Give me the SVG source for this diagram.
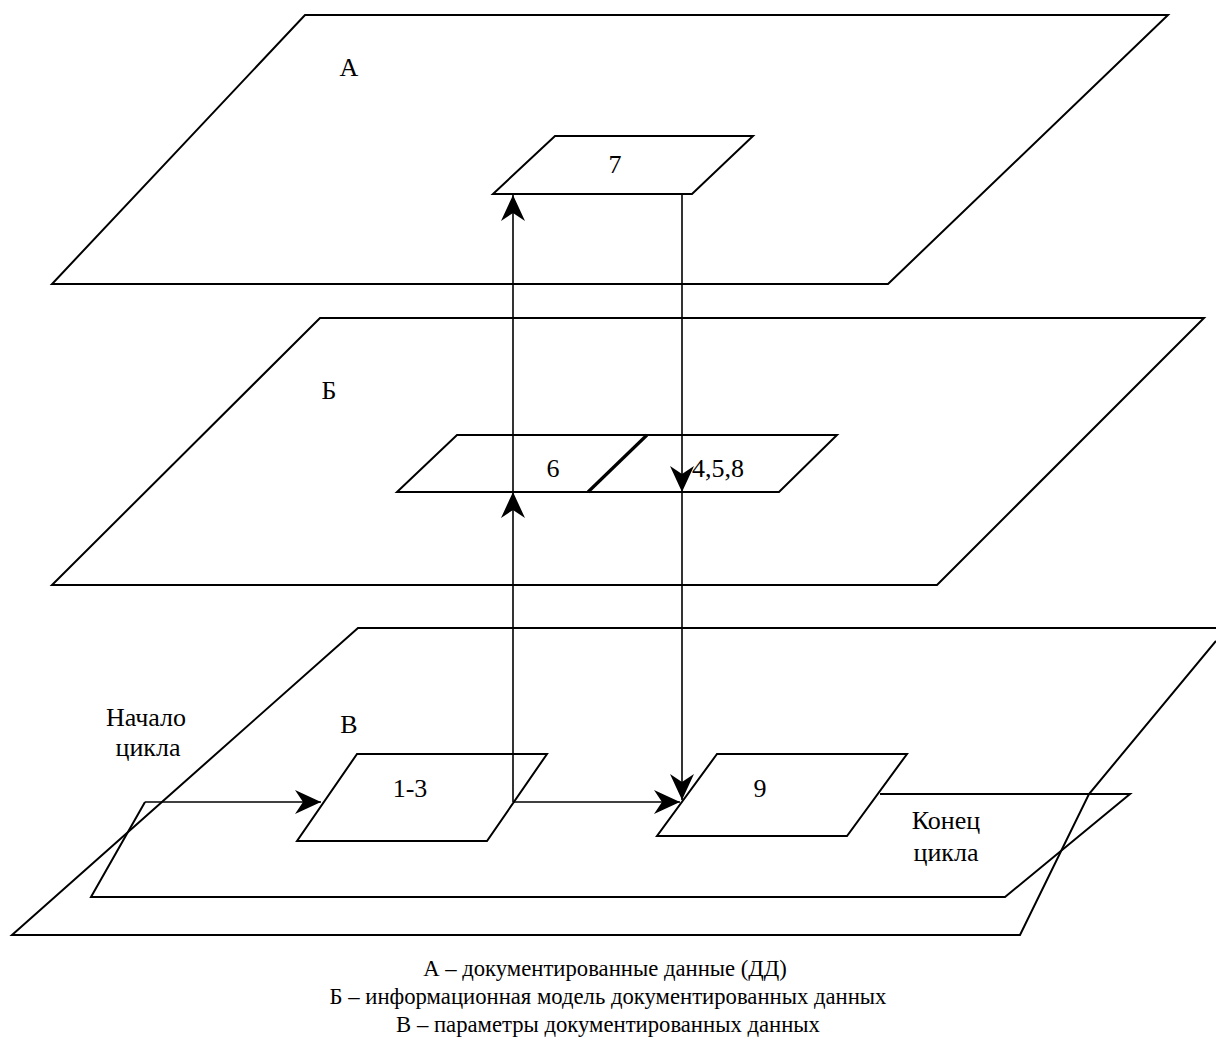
<svg xmlns="http://www.w3.org/2000/svg" width="1216" height="1041" viewBox="0 0 1216 1041">
<style>
.pl{fill:none;stroke:#000;stroke-width:2;stroke-linejoin:miter}
.nd{fill:#fff;stroke:#000;stroke-width:2}
.cn{fill:none;stroke:#000;stroke-width:1.6}
text{font-family:'Liberation Serif','Times New Roman',serif;font-size:26px;fill:#000}
.c{text-anchor:middle}
.lg{font-size:22.7px}
</style>
<defs>
<marker id="ar" markerUnits="userSpaceOnUse" markerWidth="30" markerHeight="30" viewBox="-28 -14 30 28" refX="0" refY="0" orient="auto">
<path d="M0,0 L-26,-12 L-18,0 L-26,12 Z" fill="#000"/>
</marker>
</defs>
<g id="plane-A">
<polygon class="pl" points="305,15 1168,15 888,284 52,284"/>
<text class="c" x="349" y="76">А</text>
</g>
<g id="plane-B">
<polygon class="pl" points="320,318 1204,318 937,585 52,585"/>
<text class="c" x="329" y="399">Б</text>
</g>
<g id="plane-V">
<path class="pl" d="M1216,628 L358,628 L12,935 L1020,935 L1089,794 L1216,641"/>
<text class="c" x="349" y="733">В</text>
</g>
<g id="cycle-loop">
<path class="pl" d="M880,794 L1130,794 L1005,897 L91,897 L145,802"/>
<text class="c" x="146" y="726">Начало</text>
<text class="c" x="148" y="756">цикла</text>
<text class="c" x="946" y="829">Конец</text>
<text class="c" x="946" y="861">цикла</text>
</g>
<g id="node-7">
<polygon class="nd" points="555,136 753,136 692,194 493,194"/>
<text class="c" x="615" y="173">7</text>
</g>
<g id="node-6-458">
<polygon class="nd" points="457,435 837,435 779,492 397,492"/>
<line x1="588" y1="492" x2="647" y2="435" stroke="#000" stroke-width="3.2"/>
<text class="c" x="553" y="477">6</text>
<text x="692" y="477">4,5,8</text>
</g>
<g id="node-1-3">
<polygon class="nd" points="357,754 547,754 487,841 297,841"/>
<text class="c" x="410" y="797">1-3</text>
</g>
<g id="node-9">
<polygon class="nd" points="717,754 907,754 847,836 657,836"/>
<text class="c" x="760" y="797">9</text>
</g>
<g id="connectors">
<line class="cn" x1="145" y1="802" x2="321" y2="802" marker-end="url(#ar)"/>
<line class="cn" x1="513" y1="802" x2="513" y2="492" marker-end="url(#ar)"/>
<line class="cn" x1="513" y1="492" x2="513" y2="195" marker-end="url(#ar)"/>
<line class="cn" x1="682" y1="194" x2="682" y2="492" marker-end="url(#ar)"/>
<line class="cn" x1="682" y1="492" x2="682" y2="800" marker-end="url(#ar)"/>
<line class="cn" x1="513" y1="802" x2="680" y2="802" marker-end="url(#ar)"/>
</g>
<g id="legend">
<text class="c lg" x="605" y="976">А – документированные данные (ДД)</text>
<text class="c lg" x="608" y="1004">Б – информационная модель документированных данных</text>
<text class="c lg" x="608" y="1032">В – параметры документированных данных</text>
</g>
</svg>
